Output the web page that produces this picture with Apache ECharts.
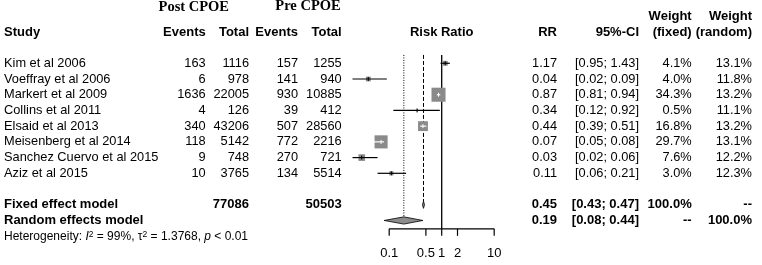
<!DOCTYPE html>
<html>
<head>
<meta charset="utf-8">
<script src="https://cdn.jsdelivr.net/npm/echarts@6/dist/echarts.min.js"></script>
<style>
html,body{margin:0;padding:0;background:#fff;}
#forest{width:762px;height:265px;}
</style>
</head>
<body>
<div id="forest"></div>
<script>
// study data
var studies = ['Kim et al 2006', 'Voeffray et al 2006', 'Markert et al 2009', 'Collins et al 2011',
  'Elsaid et al 2013', 'Meisenberg et al 2014', 'Sanchez Cuervo et al 2015', 'Aziz et al 2015'];
var postEvents = [163, 6, 1636, 4, 340, 118, 9, 10];
var postTotal = [1116, 978, 22005, 126, 43206, 5142, 748, 3765];
var preEvents = [157, 141, 930, 39, 507, 772, 270, 134];
var preTotal = [1255, 940, 10885, 412, 28560, 2216, 721, 5514];
var rr = [1.17, 0.04, 0.87, 0.34, 0.44, 0.07, 0.03, 0.11];
var ciLow = [0.95, 0.02, 0.81, 0.12, 0.39, 0.05, 0.02, 0.06];
var ciHigh = [1.43, 0.09, 0.94, 0.92, 0.51, 0.08, 0.06, 0.21];
var wFixed = [4.1, 4.0, 34.3, 0.5, 16.8, 29.7, 7.6, 3.0];
var wRandom = [13.1, 11.8, 13.2, 11.1, 13.2, 13.1, 12.2, 12.3];

// pooled models
var modelNames = ['Fixed effect model', 'Random effects model'];
var modelRR = [0.45, 0.19];
var modelLow = [0.43, 0.08];
var modelHigh = [0.47, 0.44];
var modelWFixed = [100.0, null];
var modelWRandom = [null, 100.0];
var pooledTotals = [77086, 50503];

var hetI2 = 99;
var hetTau2 = 1.3768;
var hetP = '< 0.01';

var axisTicks = [0.1, 0.5, 1, 2, 10];
var nullValue = 1;

// layout
var ROW_TOP = 0.4, ROW_H = 251.5;
var FONT = 'Liberation Sans, Arial, sans-serif';
var F_REG = '12.8px ' + FONT;
var F_BOLD = 'bold 13px ' + FONT;
var F_SERIF = 'bold 14.5px Liberation Serif, Times New Roman, serif';
var col = {
  study: [4, 'left'], postEv: [205.7, 'right'], postTot: [249, 'right'],
  preEv: [298, 'right'], preTot: [341.7, 'right'], rr: [557, 'right'],
  ci: [639, 'right'], wf: [691.7, 'right'], wr: [752, 'right']
};
var pct = function (v) { return v == null ? '--' : v.toFixed(1) + '%'; };
var ciText = function (lo, hi) { return '[' + lo.toFixed(2) + '; ' + hi.toFixed(2) + ']'; };

var cells = [];
function cell(c, row, text, font, x) {
  cells.push({ x: x != null ? x : col[c][0], align: x != null ? 'center' : col[c][1], row: row, text: String(text), font: font });
}
// headers
cell(null, -3.55, 'Post CPOE', F_SERIF, 193.8);
cell(null, -3.62, 'Pre CPOE', F_SERIF, 308);
cell('wf', -2.95, 'Weight', F_BOLD);
cell('wr', -2.95, 'Weight', F_BOLD);
cell('study', -1.95, 'Study', F_BOLD);
cell('postEv', -1.95, 'Events', F_BOLD);
cell('postTot', -1.95, 'Total', F_BOLD);
cell('preEv', -1.95, 'Events', F_BOLD);
cell('preTot', -1.95, 'Total', F_BOLD);
cell(null, -1.95, 'Risk Ratio', F_BOLD, 441.7);
cell('rr', -1.95, 'RR', F_BOLD);
cell('ci', -1.95, '95%-CI', F_BOLD);
cell('wf', -1.95, '(fixed)', F_BOLD);
cell('wr', -1.95, '(random)', F_BOLD);
// study rows
studies.forEach(function (s, i) {
  cell('study', i, s, F_REG);
  cell('postEv', i, postEvents[i], F_REG);
  cell('postTot', i, postTotal[i], F_REG);
  cell('preEv', i, preEvents[i], F_REG);
  cell('preTot', i, preTotal[i], F_REG);
  cell('rr', i, rr[i].toFixed(2), F_REG);
  cell('ci', i, ciText(ciLow[i], ciHigh[i]), F_REG);
  cell('wf', i, pct(wFixed[i]), F_REG);
  cell('wr', i, pct(wRandom[i]), F_REG);
});
// model rows
modelNames.forEach(function (m, k) {
  var row = studies.length + 1 + k;
  cell('study', row, m, F_BOLD);
  if (k === 0) {
    cell('postTot', row, pooledTotals[0], F_BOLD);
    cell('preTot', row, pooledTotals[1], F_BOLD);
  }
  cell('rr', row, modelRR[k].toFixed(2), F_BOLD);
  cell('ci', row, ciText(modelLow[k], modelHigh[k]), F_BOLD);
  cell('wf', row, pct(modelWFixed[k]), F_BOLD);
  cell('wr', row, pct(modelWRandom[k]), F_BOLD);
});

var hetRow = studies.length + 3;
var fixedRow = studies.length + 1, randomRow = studies.length + 2;

var chart = echarts.init(document.getElementById('forest'), null, { renderer: 'canvas' });

function tableItem(params, api) {
  var c = cells[params.dataIndex];
  var y = api.coord([0, c.row])[1];
  return {
    type: 'text', x: c.x, y: y,
    style: { text: c.text, align: c.align, verticalAlign: 'middle', font: c.font, fill: '#000' }
  };
}

function hetItem(params, api) {
  var y = api.coord([0, hetRow])[1] + 0.5;
  return {
    type: 'text', x: 4, y: y,
    style: {
      text: '{n|Heterogeneity: }{i|I}{s|2}{n| = ' + hetI2 + '%, τ}{s|2}{n| = ' + hetTau2 + ', }{i|p}{n| ' + hetP + '}',
      verticalAlign: 'middle', fill: '#000',
      rich: {
        n: { font: '12px ' + FONT },
        i: { font: 'italic 12px ' + FONT },
        s: { font: '8.5px ' + FONT, verticalAlign: 'top', padding: [0, 0, 5, 0] }
      }
    }
  };
}

function studyItem(params, api) {
  var i = params.dataIndex;
  var c = api.coord([rr[i], i]);
  var x0 = api.coord([ciLow[i], i])[0], x1 = api.coord([ciHigh[i], i])[0];
  var side = Math.sqrt(wFixed[i]) * 2.4;
  var inside = (x1 - x0) < side;
  var lineCol = inside ? '#fff' : '#000';
  return {
    type: 'group',
    children: [
      { type: 'rect', shape: { x: c[0] - side / 2, y: c[1] - side / 2, width: side, height: side },
        style: { fill: '#8a8a8a' } },
      { type: 'line', shape: { x1: x0, y1: c[1], x2: x1, y2: c[1] }, style: { stroke: lineCol, lineWidth: 1.2 } },
      { type: 'line', shape: { x1: c[0], y1: c[1] - 2, x2: c[0], y2: c[1] + 2 }, style: { stroke: lineCol, lineWidth: 1 } }
    ]
  };
}

function modelItem(params, api) {
  var k = params.dataIndex;
  var row = fixedRow + k;
  var a = api.coord([modelLow[k], row]), b = api.coord([modelRR[k], row]), d = api.coord([modelHigh[k], row]);
  var h = 3.6;
  return {
    type: 'polygon',
    shape: { points: [[a[0], a[1]], [b[0], b[1] - h], [d[0], d[1]], [b[0], b[1] + h]] },
    style: { fill: '#8c8c8c', stroke: '#000', lineWidth: 0.8 }
  };
}

function refItem(params, api) {
  // null line, fixed and random estimate lines, and the x axis
  var top = api.coord([1, -0.53])[1];
  var axisY = api.coord([1, 10.53])[1];
  var xNull = api.coord([nullValue, 0])[0];
  var xF = api.coord([modelRR[0], 0])[0];
  var xR = api.coord([modelRR[1], 0])[0];
  var yF = api.coord([1, fixedRow])[1] - 3.6;
  var yR = api.coord([1, randomRow])[1] - 3.6;
  var children = [
    { type: 'line', shape: { x1: xNull, y1: top, x2: xNull, y2: axisY }, style: { stroke: '#000', lineWidth: 1.3 } },
    { type: 'line', shape: { x1: xF, y1: top, x2: xF, y2: yF }, style: { stroke: '#000', lineWidth: 1, lineDash: [4, 2] } },
    { type: 'line', shape: { x1: xR, y1: top, x2: xR, y2: yR }, style: { stroke: '#000', lineWidth: 1, lineDash: [1, 1.5] } },
    { type: 'line', shape: { x1: api.coord([axisTicks[0], 0])[0], y1: axisY, x2: api.coord([axisTicks[axisTicks.length - 1], 0])[0], y2: axisY },
      style: { stroke: '#000', lineWidth: 1.2 } }
  ];
  axisTicks.forEach(function (t) {
    var x = api.coord([t, 0])[0];
    children.push({ type: 'line', shape: { x1: x, y1: axisY, x2: x, y2: axisY + 7 }, style: { stroke: '#000', lineWidth: 1.2 } });
    children.push({ type: 'text', x: x, y: axisY + 25,
      style: { text: String(t), align: 'center', verticalAlign: 'middle', font: '13px ' + FONT, fill: '#000' } });
  });
  return { type: 'group', children: children };
}

chart.setOption({
  animation: false,
  backgroundColor: '#fff',
  grid: [
    { left: 0, width: 762, top: ROW_TOP, height: ROW_H },
    { left: 336.7, width: 157.5, top: ROW_TOP, height: ROW_H }
  ],
  xAxis: [
    { gridIndex: 0, type: 'value', min: 0, max: 762, show: false },
    { gridIndex: 1, type: 'log', logBase: 10, min: 0.01, max: 10, show: false }
  ],
  yAxis: [
    { gridIndex: 0, type: 'value', min: -4, max: 12, inverse: true, show: false },
    { gridIndex: 1, type: 'value', min: -4, max: 12, inverse: true, show: false }
  ],
  series: [
    { type: 'custom', xAxisIndex: 0, yAxisIndex: 0, silent: true, renderItem: tableItem,
      data: cells.map(function (c) { return [c.x, c.row]; }) },
    { type: 'custom', xAxisIndex: 0, yAxisIndex: 0, silent: true, renderItem: hetItem, data: [[4, hetRow]] },
    { type: 'custom', xAxisIndex: 1, yAxisIndex: 1, silent: true, renderItem: refItem, data: [[1, 0]] },
    { type: 'custom', xAxisIndex: 1, yAxisIndex: 1, silent: true, renderItem: studyItem,
      data: rr.map(function (v, i) { return [v, i]; }) },
    { type: 'custom', xAxisIndex: 1, yAxisIndex: 1, silent: true, renderItem: modelItem,
      data: modelRR.map(function (v, k) { return [v, fixedRow + k]; }) }
  ]
});
</script>
</body>
</html>
